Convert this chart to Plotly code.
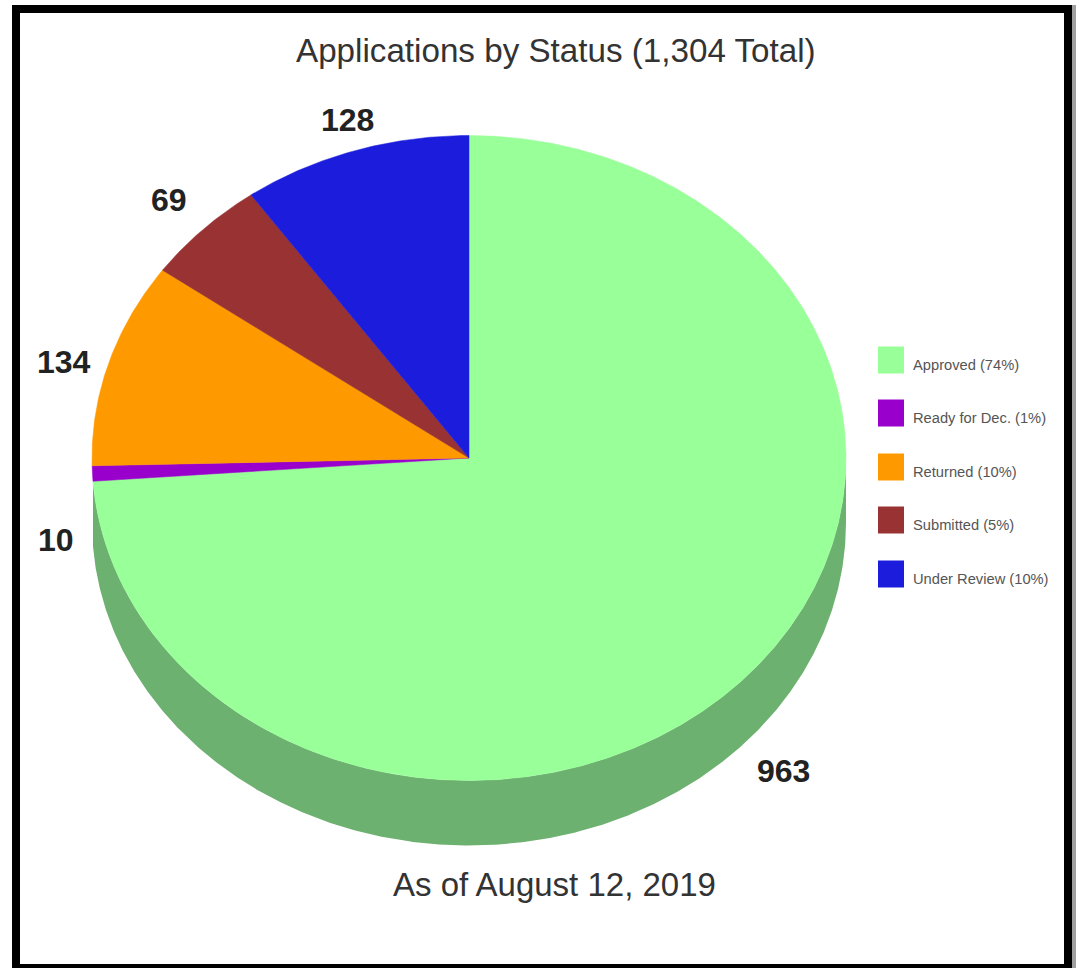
import numpy as np
import plotly.graph_objects as go

# ---- data ----
statuses = ["Approved", "Ready for Dec.", "Returned", "Submitted", "Under Review"]
counts = [963, 10, 134, 69, 128]
legend_percents = ["74%", "1%", "10%", "5%", "10%"]
colors = ["#99FF99", "#9900CC", "#FF9900", "#993333", "#1C1CDC"]
side_color = "#6DB170"
title_text = "Applications by Status (1,304 Total)"
footer_text = "As of August 12, 2019"

# ---- layout geometry (pixels of the page) ----
W, H = 1076, 968
CX, CY, RX, RY, DEPTH = 469, 458, 377, 322.5, 65
label_pos = [(783, 771), (56, 540), (64, 362), (169, 200), (347, 120)]
legend_y = [360, 413, 467, 520, 574]
FONT = "Liberation Sans, Arial, sans-serif"


def arc(a0, a1, dy=0.0):
    """Ellipse arc between clockwise-from-north angles (degrees)."""
    n = max(2, int(abs(a1 - a0) * 3) + 2)
    t = np.radians(np.linspace(a0, a1, n))
    return CX + RX * np.sin(t), CY + dy - RY * np.cos(t)


fig = go.Figure()

total = sum(counts)
edges = np.concatenate([[0], np.cumsum(counts) / total * 360])

# extruded rim: only the lower part of the ellipse, along the first slice
rim_x0, rim_y0 = arc(90, edges[1])
rim_x1, rim_y1 = arc(edges[1], 90, DEPTH)
fig.add_trace(go.Scatter(
    x=np.concatenate([rim_x0, rim_x1]), y=np.concatenate([rim_y0, rim_y1]),
    mode="lines", fill="toself", fillcolor=side_color,
    line=dict(width=0, color=side_color), hoverinfo="skip", showlegend=False,
))

for i, (name, value, color) in enumerate(zip(statuses, counts, colors)):
    ax, ay = arc(edges[i], edges[i + 1])
    fig.add_trace(go.Scatter(
        x=np.concatenate([[CX], ax, [CX]]), y=np.concatenate([[CY], ay, [CY]]),
        mode="lines", fill="toself", fillcolor=color,
        line=dict(width=0.5, color=color), name=name,
        text=f"{name}: {value}", hoverinfo="text", showlegend=False,
    ))

shapes = [
    dict(type="rect", x0=1072, x1=1076, y0=5, y1=968, fillcolor="#A0A0A0", line_width=0, layer="below"),
    dict(type="rect", x0=12, x1=1072, y0=5, y1=968, fillcolor="#000000", line_width=0, layer="below"),
    dict(type="rect", x0=20, x1=1064, y0=13, y1=964, fillcolor="#FFFFFF", line_width=0, layer="below"),
]
annotations = [
    dict(x=555.5, y=50, text=title_text, font=dict(size=33.2, color="#333333", family=FONT)),
    dict(x=554.5, y=884, text=footer_text, font=dict(size=33, color="#333333", family=FONT)),
]
for value, (lx, ly) in zip(counts, label_pos):
    annotations.append(dict(x=lx, y=ly, text=f"<b>{value}</b>",
                            font=dict(size=32, color="#222222", family=FONT)))
for name, pct, color, ly in zip(statuses, legend_percents, colors, legend_y):
    shapes.append(dict(type="rect", x0=878, x1=904, y0=ly - 13.5, y1=ly + 13.5,
                       fillcolor=color, line_width=0, layer="above"))
    annotations.append(dict(x=911, y=ly + 4.5, xanchor="left", text=f"{name} ({pct})",
                            font=dict(size=14.7, color="#555555", family=FONT)))

for a in annotations:
    a.update(xref="x", yref="y", showarrow=False)
    a.setdefault("xanchor", "center")
    a.setdefault("yanchor", "middle")

fig.update_layout(
    width=W, height=H, autosize=False,
    margin=dict(l=0, r=0, t=0, b=0),
    paper_bgcolor="#FFFFFF", plot_bgcolor="#FFFFFF",
    xaxis=dict(range=[0, W], visible=False, fixedrange=True),
    yaxis=dict(range=[H, 0], visible=False, fixedrange=True),
    shapes=shapes, annotations=annotations, showlegend=False,
)

fig.write_html(
    "out.html",
    config={"displayModeBar": False},
    post_script="document.body.style.margin='0';document.body.style.overflow='hidden';",
)
